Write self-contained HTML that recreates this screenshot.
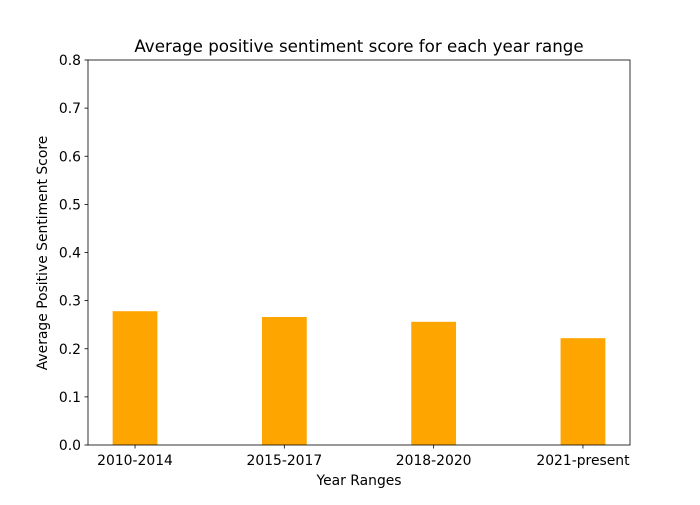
<!DOCTYPE html>
<html><head><meta charset="utf-8"><style>
body{margin:0;background:#fff;}
svg text{font-family:"DejaVu Sans","Liberation Sans",sans-serif;fill:#000;}
</style></head><body>
<svg id="chart" width="700" height="500" xmlns="http://www.w3.org/2000/svg">
<rect width="700" height="500" fill="#fff"/>
<text x="359" y="52" font-size="16.7" text-anchor="middle">Average positive sentiment score for each year range</text>
<text x="359" y="485" font-size="13.9" text-anchor="middle">Year Ranges</text>
<text transform="translate(47,253) rotate(-90)" font-size="13.9" text-anchor="middle">Average Positive Sentiment Score</text>
<g id="bars"></g><g id="axes"></g>
</svg>
<script>
const categories=["2010-2014","2015-2017","2018-2020","2021-present"];
const values=[0.278,0.266,0.256,0.222];
const yTicks=[0,0.1,0.2,0.3,0.4,0.5,0.6,0.7,0.8];
const L=88,R=630,T=60,B=445,ymax=0.8,xmin=-0.315,xmax=3.315,bw=0.3;
const NS="http://www.w3.org/2000/svg";
const x=v=>L+(v-xmin)/(xmax-xmin)*(R-L);
const y=v=>B-v/ymax*(B-T);
function mk(t,a,p){const e=document.createElementNS(NS,t);for(const k in a)e.setAttribute(k,a[k]);p.appendChild(e);return e;}
const bars=document.getElementById('bars'),axes=document.getElementById('axes');
values.forEach((v,i)=>{
 const r=mk('rect',{x:x(i-bw/2),y:y(v),width:x(i+bw/2)-x(i-bw/2),height:y(0)-y(v),fill:'#ffa500'},bars);
 
 
 mk('line',{x1:x(i),x2:x(i),y1:B,y2:B+3.5,stroke:'#000','stroke-width':0.8},axes);
 const t=mk('text',{x:x(i),y:B+20,'font-size':13.9,'text-anchor':'middle'},axes);
 t.textContent=categories[i];
 
 
});
yTicks.forEach(v=>{
 mk('line',{x1:L-3.5,x2:L,y1:y(v),y2:y(v),stroke:'#000','stroke-width':0.8},axes);
 const t=mk('text',{x:L-7,y:y(v)+5,'font-size':13.9,'text-anchor':'end'},axes);
 t.textContent=v.toFixed(1);
 
 
});
const f=mk('rect',{x:L,y:T,width:R-L,height:B-T,fill:'none',stroke:'#000','stroke-width':0.8},axes);


</script>
</body></html>
